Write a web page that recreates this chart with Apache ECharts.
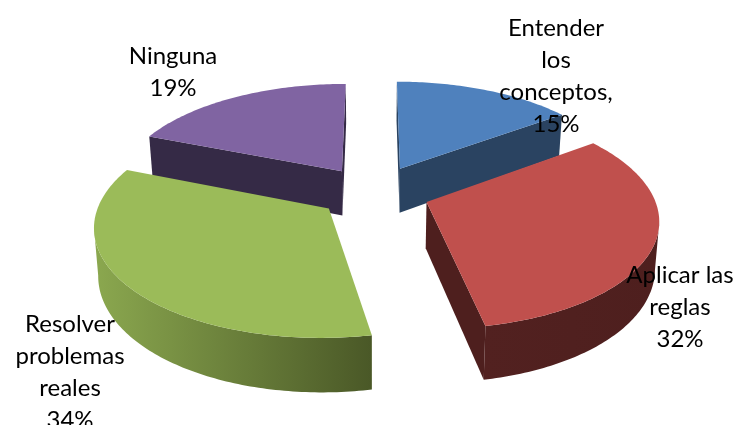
<!DOCTYPE html>
<html><head><meta charset="utf-8">
<style>html,body{margin:0;padding:0;background:#fff}#c{width:736px;height:425px}</style>
<script src="https://cdn.jsdelivr.net/npm/echarts@6/dist/echarts.min.js"></script>
</head><body><div id="c"></div>
<script>
const categories = ['Entender\nlos\nconceptos,', 'Aplicar las\nreglas', 'Resolver\nproblemas\nreales', 'Ninguna'];
const values = [15, 32, 34, 19];
const topColors = ['#4F81BD', '#C0504D', '#9BBB59', '#8064A2'];
const sideColors = [['#2A4361', '#2A4361'], ['#522120', '#4E1F1E'], ['#8BA84F', '#4A5827'], ['#352A46', '#352A46']];
const labelAnchors = [[556, 76], [680, 307], [70, 372], [173, 72]];
const sliceNudge = [[1, 0], [-1.5, 0], [1, -1], [0, 1]];

const VIEW = {cx: 373.5, cy: 192, A: 226, B: 105.5, k: 0.1416, explode: 0.256, depth: 45.5, baseScale: 0.985};
const FONT = {family: 'Lato, Carlito, sans-serif', size: 24, line: 32};

const total = values.reduce((a, b) => a + b, 0);
const starts = values.map((_, i) => values.slice(0, i).reduce((a, b) => a + b, 0) / total * 2 * Math.PI);

function project(x, y, bottom, nudge) {
  const w = 1 - VIEW.k * y;
  const sx = bottom ? VIEW.baseScale : 1;
  return [
    VIEW.cx + nudge[0] + VIEW.A * sx * x / w,
    VIEW.cy + nudge[1] + VIEW.B * y / w + (bottom ? VIEW.depth / w : 0)
  ];
}

function sliceShapes(i, z) {
  const a0 = starts[i], a1 = a0 + values[i] / total * 2 * Math.PI, mid = (a0 + a1) / 2;
  const ox = Math.sin(mid) * VIEW.explode, oy = -Math.cos(mid) * VIEW.explode;
  const N = Math.ceil((a1 - a0) * 60), rim = [];
  for (let n = 0; n <= N; n++) {
    const a = a0 + (a1 - a0) * n / N;
    rim.push([ox + Math.sin(a), oy - Math.cos(a)]);
  }
  const apex = [ox, oy];
  const T = p => project(p[0], p[1], false, sliceNudge[i]), D = p => project(p[0], p[1], true, sliceNudge[i]);
  const out = [], flat = sideColors[i][1];
  const wall = (pts, fill) => out.push({type: 'polygon', silent: true, shape: {points: pts}, style: {fill: fill}, z2: z + out.length});

  [[apex, rim[0]], [rim[N], apex]].forEach(e => {
    if (T(e[1])[0] < T(e[0])[0]) wall([T(e[0]), T(e[1]), D(e[1]), D(e[0])], flat);
  });
  let run = [];
  const flush = () => {
    if (run.length > 1) {
      const pts = run.map(T).concat(run.slice().reverse().map(D));
      wall(pts, {type: 'linear', x: 0, y: 0, x2: 1, y2: 0, colorStops: [
        {offset: 0, color: sideColors[i][0]}, {offset: 1, color: sideColors[i][1]}]});
    }
    run = [];
  };
  for (let n = 0; n < N; n++) {
    if (T(rim[n + 1])[0] < T(rim[n])[0]) { if (!run.length) run.push(rim[n]); run.push(rim[n + 1]); }
    else flush();
  }
  flush();
  out.push({type: 'polygon', silent: true, shape: {points: [apex].concat(rim).map(T)}, style: {fill: topColors[i]}, z2: z + 40});
  return out;
}

const depthOrder = values.map((_, i) => i).sort((p, q) => {
  const m = j => starts[j] + values[j] / total * Math.PI;
  return -Math.cos(m(p)) - -Math.cos(m(q));
});

const chart = echarts.init(document.getElementById('c'));
chart.setOption({
  animation: false,
  backgroundColor: '#fff',
  series: [{
    type: 'custom',
    coordinateSystem: 'none',
    data: values.map(v => [v]),
    renderItem: (params) => {
      const i = params.dataIndex;
      const z = (depthOrder.indexOf(i) + 1) * 100;
      return {type: 'group', children: sliceShapes(i, z).concat([{
        type: 'text', silent: true, z2: 1000,
        style: {
          text: categories[i] + '\n' + values[i] + '%',
          x: labelAnchors[i][0], y: labelAnchors[i][1],
          align: 'center', verticalAlign: 'middle',
          fontFamily: FONT.family, fontSize: FONT.size, lineHeight: FONT.line, fill: '#000'
        }
      }])};
    }
  }]
});
</script></body></html>
